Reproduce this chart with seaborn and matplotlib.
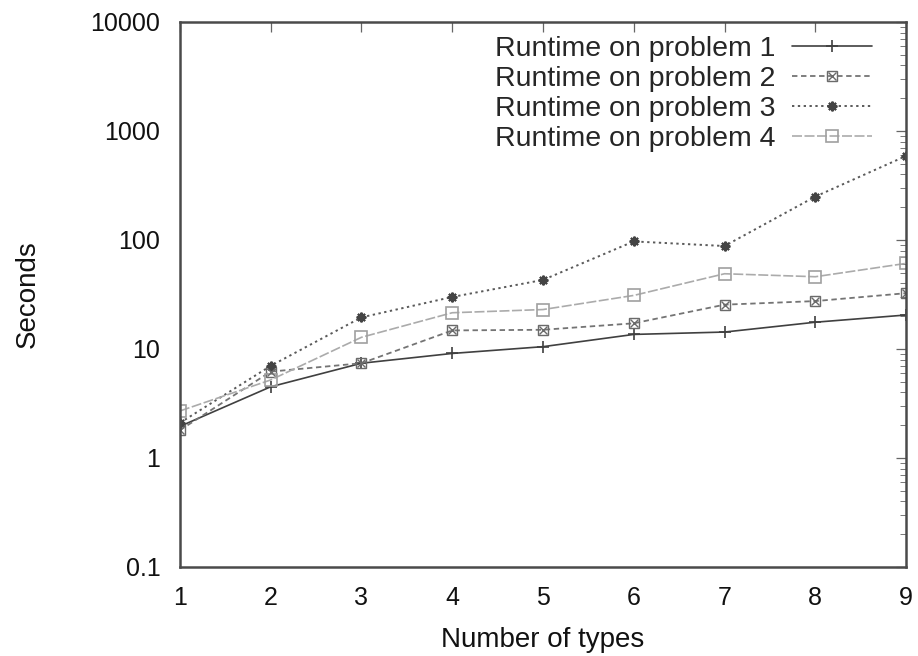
import matplotlib
matplotlib.use("Agg")
import matplotlib.pyplot as plt
import seaborn as sns
import pandas as pd
from matplotlib.lines import Line2D
from matplotlib.legend_handler import HandlerTuple
from matplotlib.ticker import LogLocator, FixedLocator, NullFormatter

# Runtime (seconds) per number of types, one list per problem
types = [1, 2, 3, 4, 5, 6, 7, 8, 9]
problem1 = [1.95, 4.5, 7.4, 9.1, 10.5, 13.6, 14.3, 17.6, 20.5]
problem2 = [1.8, 6.2, 7.4, 14.8, 15.0, 17.2, 25.5, 27.5, 32.5]
problem3 = [2.1, 7.0, 19.5, 30.0, 43.0, 97.0, 88.0, 250.0, 590.0]
problem4 = [2.7, 5.2, 12.8, 21.5, 23.0, 31.0, 49.0, 46.0, 61.0]
labels = ["Runtime on problem 1", "Runtime on problem 2",
          "Runtime on problem 3", "Runtime on problem 4"]
y_ticks = [0.1, 1, 10, 100, 1000, 10000]
y_tick_labels = ["0.1", "1", "10", "100", "1000", "10000"]

sns.set_style("white")
plt.rcParams["font.family"] = ["Liberation Sans", "DejaVu Sans"]

df = pd.DataFrame({"types": types, "p1": problem1, "p2": problem2,
                   "p3": problem3, "p4": problem4})

fig = plt.figure(figsize=(9.18, 6.56), dpi=100)
ax = fig.add_axes([0.196, 0.1357, 0.791, 0.8308])

styles = {
    "p1": dict(color="#404040", linestyle="-", linewidth=1.2,
               marker="+", markersize=8, markeredgewidth=1.2,
               markeredgecolor="#404040"),
    "p2": dict(color="#747474", linestyle=(0, (3, 2)), linewidth=1.3,
               marker="s", markersize=7, markerfacecolor="none",
               markeredgewidth=1.0, markeredgecolor="#6a6a6a"),
    "p3": dict(color="#5a5a5a", linestyle=(0, (1.2, 1.8)), linewidth=1.4,
               marker=(8, 2, 0), markersize=7, markeredgewidth=1.5,
               markeredgecolor="#444444"),
    "p4": dict(color="#ababab", linestyle=(0, (6, 1.5)), linewidth=1.2,
               marker="s", markersize=9, markerfacecolor="none",
               markeredgewidth=1.2, markeredgecolor="#a0a0a0"),
}

for key, label in zip(["p1", "p2", "p3", "p4"], labels):
    sns.lineplot(data=df, x="types", y=key, ax=ax, label=label,
                 **styles[key])
# cross inside the squares of problem 2
cross = dict(color="#6a6a6a", linestyle="none", marker="x", markersize=6,
             markeredgewidth=1.0)
sns.lineplot(data=df, x="types", y="p2", ax=ax, legend=False,
             markeredgecolor="#6a6a6a", **cross)

ax.set_yscale("log")
ax.set_xlim(1, 9)
ax.set_ylim(0.1, 10000)
ax.yaxis.set_major_locator(FixedLocator(y_ticks))
ax.set_yticklabels(y_tick_labels)
ax.yaxis.set_minor_locator(LogLocator(base=10, subs=range(2, 10), numticks=20))
ax.yaxis.set_minor_formatter(NullFormatter())
ax.set_xticks(types)

ax.tick_params(axis="both", which="major", direction="in", length=7,
               width=0.9, color="#666666", top=True, right=True,
               labelsize=18, pad=14, labelcolor="#111111")
ax.tick_params(axis="y", which="minor", direction="in", length=4,
               width=0.7, color="#777777", right=True)
for spine in ax.spines.values():
    spine.set_visible(True)
    spine.set_color("#4a4a4a")
    spine.set_linewidth(1.8)

ax.set_xlabel("Number of types", fontsize=20, labelpad=12, color="#111111")
ax.set_ylabel("Seconds", fontsize=20, labelpad=36, color="#111111")

handles, _ = ax.get_legend_handles_labels()
handles = list(handles[:4])
handles[1] = (handles[1], Line2D([], [], markeredgecolor="#6a6a6a", **cross))
ax.legend(handles, labels, loc="upper right", bbox_to_anchor=(0.953, 0.975),
          frameon=False, markerfirst=False, fontsize=20.5,
          handlelength=2.8, handletextpad=0.6, labelspacing=0.14,
          borderaxespad=0, borderpad=0,
          handler_map={tuple: HandlerTuple(ndivide=1)})

fig.savefig("out.png", dpi=100)
